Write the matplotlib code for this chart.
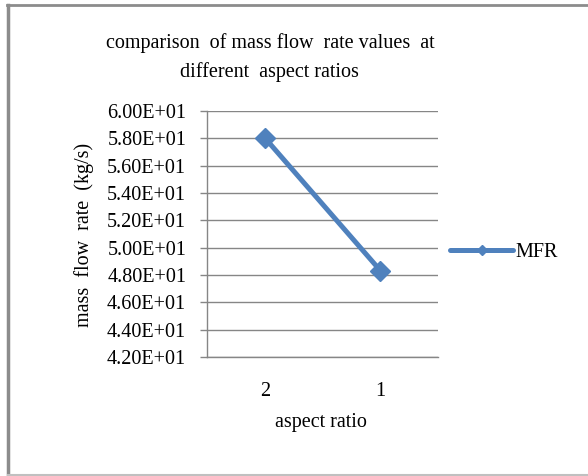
import matplotlib
matplotlib.use("Agg")
import matplotlib.pyplot as plt
from matplotlib.lines import Line2D

categories = ["2", "1"]
mfr = [58.02, 48.32]
y_ticks = [42, 44, 46, 48, 50, 52, 54, 56, 58, 60]
y_labels = ["%.2fE+01" % (v / 10) for v in y_ticks]

plt.rcParams["font.family"] = ["Liberation Serif", "DejaVu Serif"]

fig = plt.figure(figsize=(5.88, 4.76), dpi=100)
ax = fig.add_axes([0.352, 0.2494, 0.3934, 0.518])

x = list(range(len(categories)))
ax.plot(x, mfr, color="#4F81BD", lw=3.6, marker="D", markersize=10,
        label="MFR", solid_capstyle="round")

ax.set_xlim(-0.5, len(categories) - 0.5)
ax.set_ylim(42, 60)
ax.set_yticks(y_ticks)
ax.set_yticklabels(y_labels, fontsize=14.5)
ax.set_xticks(x)
ax.set_xticklabels(categories, fontsize=14.5)
ax.tick_params(axis="y", length=5, width=1, color="#868686", pad=10)
ax.tick_params(axis="x", length=0, pad=18)
ax.grid(axis="y", color="#868686", lw=1)
ax.set_axisbelow(True)
for s in ["top", "right"]:
    ax.spines[s].set_visible(False)
for s in ["left", "bottom"]:
    ax.spines[s].set_color("#868686")
    ax.spines[s].set_linewidth(1)

fig.text(0.459, 0.879, "comparison  of mass flow  rate values  at\ndifferent  aspect ratios",
         ha="center", va="center", fontsize=14.5, linespacing=1.55)
fig.text(0.546, 0.113, "aspect ratio", ha="center", va="center", fontsize=14.5)
fig.text(0.143, 0.506, "mass  flow  rate  (kg/s)", ha="center", va="center",
         rotation=90, fontsize=14.5)

leg = ax.legend(loc="center left", bbox_to_anchor=(1.0, 0.427), frameon=False,
                fontsize=14.5, handlelength=3.1, handletextpad=0.15, borderaxespad=0.2)
leg.legend_handles[0].set_markersize(5)

# chart border
fig.add_artist(Line2D([7 / 588, 1], [1 - 5 / 476, 1 - 5 / 476], transform=fig.transFigure,
                      color="#8c8c8c", lw=2))
fig.add_artist(Line2D([8 / 588, 8 / 588], [1 - 5 / 476, 0], transform=fig.transFigure,
                      color="#8c8c8c", lw=2.5))
fig.add_artist(Line2D([8 / 588, 1], [1.5 / 476, 1.5 / 476], transform=fig.transFigure,
                      color="#c0c0c0", lw=1.5))

fig.savefig("out.png", dpi=100)
